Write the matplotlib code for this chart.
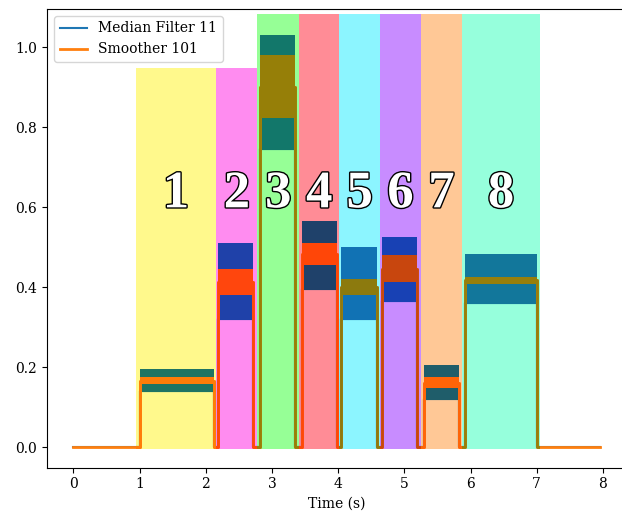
import matplotlib.pyplot as plt
import matplotlib.patheffects as pe
from matplotlib.colors import to_rgb
from matplotlib.patches import Rectangle

# region boundaries (s) and heights of the coloured backgrounds
span_edges = [0.94, 2.16, 2.78, 3.41, 4.02, 4.63, 5.25, 5.87, 7.05]
span_tops = [0.948, 0.948, 1.083, 1.083, 1.083, 1.083, 1.083, 1.083]
span_bottom = -0.005
span_labels = ["1", "2", "3", "4", "5", "6", "7", "8"]
span_colors = ["#fff98c", "#ff8cf0", "#96ff96", "#ff8c96",
               "#8cf5ff", "#c88cff", "#ffc896", "#96ffdc"]

# signal on / off times per region
t_start, t_end = 0.0, 7.95
on_times = [1.00, 2.19, 2.82, 3.45, 4.05, 4.66, 5.29, 5.91]
off_times = [2.12, 2.72, 3.35, 3.98, 4.58, 5.19, 5.83, 7.01]

# band levels per region (median filter envelope / smoother band)
median_top = [0.197, 0.510, 1.030, 0.565, 0.500, 0.525, 0.207, 0.483]
smooth_top = [0.175, 0.447, 0.980, 0.510, 0.420, 0.480, 0.176, 0.427]
smooth_bot = [0.158, 0.381, 0.823, 0.456, 0.380, 0.414, 0.148, 0.409]
median_bot = [0.140, 0.322, 0.745, 0.397, 0.320, 0.365, 0.120, 0.360]

blue = "#1f77b4"
orange = "#ff7f0e"

plt.rcParams['font.family'] = 'serif'


def multiply(c1, c2):
    return tuple(a * b for a, b in zip(to_rgb(c1), to_rgb(c2)))


fig = plt.figure(figsize=(6.22, 5.12), dpi=100)
ax = fig.add_axes([47 / 622, 1 - 467.5 / 512, (626 - 47) / 622, (467.5 - 9) / 512])

# step paths for both signals
bx, by = [t_start], [0.0]
ox, oy = [t_start], [0.0]
for i in range(len(on_times)):
    mid = (smooth_top[i] + smooth_bot[i]) / 2
    bx += [on_times[i], on_times[i], off_times[i], off_times[i]]
    by += [0, median_bot[i], median_bot[i], 0]
    ox += [on_times[i], on_times[i], off_times[i], off_times[i]]
    oy += [0, mid, mid, 0]
bx.append(t_end); by.append(0.0)
ox.append(t_end); oy.append(0.0)

ax.plot(bx, by, color=blue, lw=1.5, zorder=2, label="Median Filter 11")
ax.plot(ox, oy, color=orange, lw=2, zorder=3, label="Smoother 101")

for i in range(len(span_colors)):
    x0, x1 = span_edges[i], span_edges[i + 1]
    c = span_colors[i]
    ax.fill_between([x0, x1], span_bottom, span_tops[i], color=c, lw=0, zorder=1)
    cb = multiply(blue, c)
    co = multiply(orange, c)
    clip = Rectangle((x0, -1), x1 - x0, 3, transform=ax.transData)
    l, = ax.plot(bx, by, color=cb, lw=1.5, zorder=2.1)
    l.set_clip_path(clip)
    clip2 = Rectangle((x0, -1), x1 - x0, 3, transform=ax.transData)
    l, = ax.plot(ox, oy, color=co, lw=2, zorder=3.1)
    l.set_clip_path(clip2)

    on, off = on_times[i], off_times[i]
    ax.fill_between([on, off], smooth_top[i], median_top[i], color=cb, lw=0, zorder=2.5)
    ax.fill_between([on, off], median_bot[i], smooth_bot[i], color=cb, lw=0, zorder=2.5)
    ax.fill_between([on, off], smooth_bot[i], smooth_top[i], color=co, lw=0, zorder=3.2)

    ax.text((x0 + x1) / 2, 0.60, span_labels[i], ha='center', va='baseline',
            fontsize=38, fontweight='bold', family='Liberation Serif', color='white',
            zorder=5, path_effects=[pe.withStroke(linewidth=2, foreground='black')])

ax.set_xlim(-0.3975, 8.3475)
ax.set_ylim(-0.0505, 1.0958)
ax.set_xticks(range(9))
ax.set_yticks([0.0, 0.2, 0.4, 0.6, 0.8, 1.0])
ax.set_xlabel("Time (s)")
ax.legend(loc='upper left')

fig.savefig("out.png", dpi=100)
